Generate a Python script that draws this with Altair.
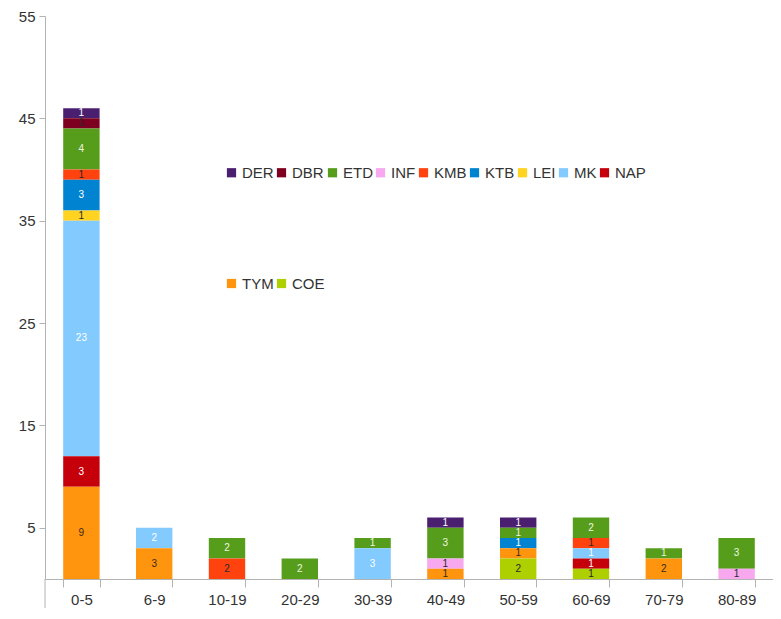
import altair as alt
import pandas as pd

categories = ["0-5", "6-9", "10-19", "20-29", "30-39", "40-49", "50-59", "60-69", "70-79", "80-89"]

# legend order (top of stack first)
series = ["DER", "DBR", "ETD", "INF", "KMB", "KTB", "LEI", "MK", "NAP", "TYM", "COE"]

DER = [1, 0, 0, 0, 0, 1, 1, 0, 0, 0]
DBR = [1, 0, 0, 0, 0, 0, 0, 0, 0, 0]
ETD = [4, 0, 2, 2, 1, 3, 1, 2, 1, 3]
INF = [0, 0, 0, 0, 0, 1, 0, 0, 0, 1]
KMB = [1, 0, 2, 0, 0, 0, 0, 1, 0, 0]
KTB = [3, 0, 0, 0, 0, 0, 1, 0, 0, 0]
LEI = [1, 0, 0, 0, 0, 0, 0, 0, 0, 0]
MK = [23, 2, 0, 0, 3, 0, 0, 1, 0, 0]
NAP = [3, 0, 0, 0, 0, 0, 0, 1, 0, 0]
TYM = [9, 3, 0, 0, 0, 1, 1, 0, 2, 0]
COE = [0, 0, 0, 0, 0, 0, 2, 1, 0, 0]

y_ticks = [5, 15, 25, 35, 45, 55]

# styles
colors = ["#4b1f6f", "#7e0021", "#579d1c", "#f7a8ef", "#ff420e", "#0084d1",
          "#ffd320", "#83caff", "#c5000b", "#ff950e", "#aecf00"]
label_colors = {"DER": "#ffffff", "DBR": "#2a2a2a", "ETD": "#eef6e0", "INF": "#2a2a2a",
                "KMB": "#2a2a2a", "KTB": "#ffffff", "LEI": "#2a2a2a", "MK": "#ffffff",
                "NAP": "#ffffff", "TYM": "#3a2a10", "COE": "#2a2a2a"}

values = {"DER": DER, "DBR": DBR, "ETD": ETD, "INF": INF, "KMB": KMB, "KTB": KTB,
          "LEI": LEI, "MK": MK, "NAP": NAP, "TYM": TYM, "COE": COE}

stack_order = list(reversed(series))  # bottom first
rows = []
for s in series:
    for c, v in zip(categories, values[s]):
        if v > 0:
            rows.append({"cat": c, "series": s, "value": v,
                         "ord": stack_order.index(s), "lab": label_colors[s]})
df = pd.DataFrame(rows)

W, H = 728, 563
AX = "#b3b3b3"
FONT = "Liberation Sans"

base = alt.Chart(df).transform_stack(
    stack="value", groupby=["cat"], as_=["y0", "y1"],
    sort=[alt.SortField("ord", order="ascending")]
).transform_calculate(mid="(datum.y0 + datum.y1) / 2")

xenc = alt.X("cat:N", sort=categories,
             scale=alt.Scale(paddingInner=0.5, paddingOuter=0.25),
             axis=alt.Axis(title=None, labelAngle=0, tickBand="extent", domainColor=AX,
                           tickColor=AX, tickSize=8, labelFontSize=15, labelFont=FONT,
                           labelColor="#333333", labelPadding=5, grid=False))

bars = base.mark_bar().encode(
    x=xenc,
    y=alt.Y("y0:Q", scale=alt.Scale(domain=[0, 55], nice=False, zero=True),
            axis=alt.Axis(title=None, values=y_ticks, grid=False, domainColor=AX,
                          tickColor=AX, tickSize=6, labelFontSize=15, labelFont=FONT,
                          labelColor="#333333", labelPadding=4)),
    y2="y1:Q",
    color=alt.Color("series:N", scale=alt.Scale(domain=series, range=colors),
                    legend=alt.Legend(orient="none", legendX=179, legendY=149, columns=9,
                                      direction="horizontal", title=None,
                                      symbolType="square", symbolSize=85,
                                      symbolStrokeWidth=0, labelFontSize=15,
                                      labelFont=FONT, labelColor="#333333",
                                      columnPadding=0, rowPadding=95, labelOffset=3,
                                      padding=0)),
)

texts = base.mark_text(fontSize=10, font=FONT).encode(
    x=alt.X("cat:N", sort=categories),
    y=alt.Y("mid:Q"),
    text=alt.Text("value:Q"),
    color=alt.Color("lab:N", scale=None),
)

ext = alt.Chart(pd.DataFrame({"a": [0]})).mark_rule(color=AX).encode(
    x=alt.value(0), y=alt.value(H), y2=alt.value(H + 29)
)

chart = alt.layer(bars, texts, ext).properties(
    width=W, height=H,
    autosize=alt.AutoSizeParams(type="none"),
    padding={"left": 37, "top": 8, "right": 0, "bottom": 29},
    background="white",
).configure_view(stroke=None)

chart.save("out.html", embed_options={"renderer": "svg", "actions": False})
